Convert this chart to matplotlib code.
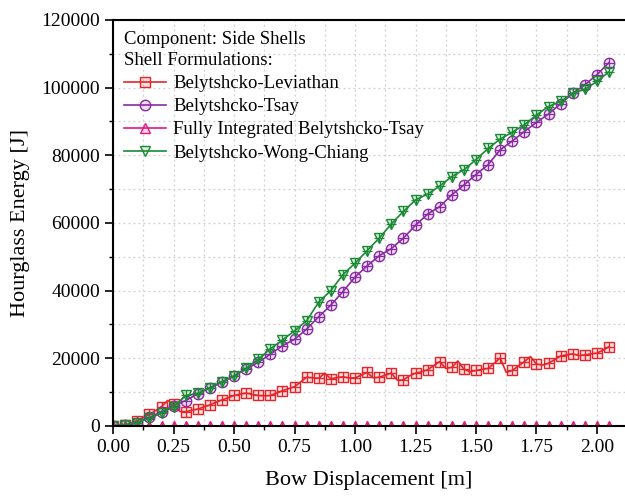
import matplotlib
matplotlib.use("Agg")
import matplotlib.pyplot as plt
from matplotlib.ticker import MultipleLocator
import numpy as np

plt.rcParams['font.family'] = ['Liberation Serif', 'DejaVu Serif']

# Belytshcko-Leviathan, sampled every 0.025 m (marker every 0.05 m)
lev_x = np.round(np.arange(0, 83) * 0.025, 3)
lev_y = [0, 100, 200, 800, 1600, 2500, 3400, 4500, 5700, 7500,
         6500, 4300, 4200, 4600, 5000, 5600, 6200, 7000, 7700, 8300,
         9000, 9400, 9700, 9300, 9000, 8900, 9000, 9700, 10400, 11000,
         11600, 13000, 14400, 14200, 14100, 15600, 13900, 14300, 14500, 14200,
         14200, 15000, 15800, 14200, 14400, 15000, 15600, 13500, 13600, 14800,
         15600, 16000, 16600, 17800, 19000, 17000, 17300, 19200, 16800, 16000,
         16400, 16700, 17000, 18500, 20100, 15800, 16400, 17700, 19000, 20500,
         18300, 18000, 18500, 19600, 20700, 21000, 21300, 20800, 21000, 21300,
         21500, 22400, 23400]

# other formulations, sampled every 0.05 m
disp = np.round(np.arange(0, 42) * 0.05, 2)
tsay = [0, 200, 900, 2500, 4200, 6000, 7500, 9500, 11200, 12900,
        14700, 16800, 18800, 21200, 23700, 25600, 28600, 32300, 35700, 39700,
        44000, 47300, 50300, 52400, 55500, 59300, 62600, 64800, 68300, 71200,
        74300, 77200, 81600, 84200, 87000, 89700, 92200, 95200, 98300, 100800,
        103800, 107400]
fully_int = [0, 0, 0, 0, 0, 0, 0, 0, 0, 0,
             0, 0, 0, 0, 0, 0, 0, 0, 0, 0,
             0, 0, 0, 0, 0, 0, 0, 0, 0, 0,
             0, 0, 0, 0, 0, 0, 0, 0, 0, 0,
             0, 0]
wong = [0, 300, 1000, 2200, 3800, 5700, 9000, 9600, 11300, 13100,
        14800, 17000, 19700, 22800, 25400, 28100, 31100, 36600, 40000, 44700,
        48100, 51800, 55500, 59700, 63400, 66800, 68500, 70900, 73700, 75700,
        78700, 82000, 84800, 86800, 89000, 91900, 94400, 95900, 98300, 99500,
        101800, 104700]

fig = plt.figure(figsize=(6.25, 4.97), dpi=100)
ax = fig.add_axes([0.181, 0.143, 0.819, 0.817])


def plot_series(x, y, color, marker, label, every=1):
    ax.plot(x, y, color=color, lw=1.2, marker=marker, ms=7.5, mew=1.0,
            mfc=matplotlib.colors.to_rgba(color, 0.15), mec=color,
            markevery=every, label=label)
    ax.plot(x, y, ls='none', marker='+', ms=7, mew=0.9, color=color,
            markevery=every)


red = '#e5252a'
purple = '#8a2ba3'
pink = '#e8177f'
green = '#1b8a35'

plot_series(lev_x, lev_y, red, 's', 'Belytshcko-Leviathan', every=2)
plot_series(disp, tsay, purple, 'o', 'Belytshcko-Tsay')
plot_series(disp, fully_int, pink, '^', 'Fully Integrated Belytshcko-Tsay')
plot_series(disp, wong, green, 'v', 'Belytshcko-Wong-Chiang')

ax.set_xlim(0, 2.116)
ax.set_ylim(0, 120000)
ax.xaxis.set_major_locator(MultipleLocator(0.25))
ax.xaxis.set_minor_locator(MultipleLocator(0.125))
ax.yaxis.set_major_locator(MultipleLocator(20000))
ax.yaxis.set_minor_locator(MultipleLocator(10000))
ax.xaxis.set_major_formatter(matplotlib.ticker.FormatStrFormatter('%.2f'))

ax.grid(True, which='both', color='#cfcfcf', ls=(0, (1.5, 2.5)), lw=0.9)
ax.set_axisbelow(True)
ax.tick_params(which='major', direction='out', length=6, width=1.2, labelsize=14)
ax.tick_params(which='minor', direction='out', length=3, width=1.0)

for s in ['left', 'top', 'bottom']:
    ax.spines[s].set_linewidth(1.5)
ax.spines['right'].set_visible(False)

ax.set_xlabel('Bow Displacement [m]', fontsize=16, labelpad=11)
ax.set_ylabel('Hourglass Energy [J]', fontsize=16, labelpad=8)

leg = ax.legend(loc='upper left', title='Component: Side Shells\nShell Formulations:',
                alignment='left', frameon=False, fontsize=13.5, title_fontsize=13.5,
                handlelength=2.2, labelspacing=0.32, handletextpad=0.4,
                borderaxespad=0.2)
leg.get_title().set_linespacing(1.3)

fig.savefig('out.png', dpi=100)
